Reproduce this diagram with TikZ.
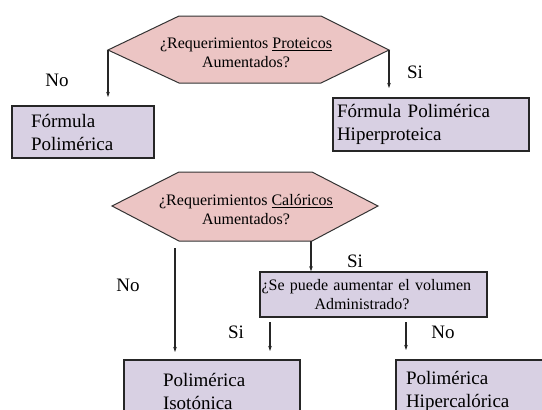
\documentclass[tikz,border=0pt]{standalone}
\usepackage{fontspec}
\setmainfont{Liberation Serif}
\usepackage{xcolor}
\usetikzlibrary{arrows.meta, positioning}

\definecolor{hexfill}{RGB}{236,197,196}
\definecolor{boxfill}{RGB}{216,208,227}
\newcommand{\bigtxt}{\fontsize{19}{23}\selectfont}
\newcommand{\smalltxt}{\fontsize{16}{19}\selectfont}

\begin{document}
\begin{tikzpicture}[
    x=1pt, y=-1pt,
    hexa/.style={draw=black!80, line width=1pt, fill=hexfill},
    question/.style={align=center, inner sep=0pt, font=\smalltxt},
    box/.style={draw=black!85, line width=1.4pt, fill=boxfill, align=left, inner ysep=0pt, font=\bigtxt},
    answer/.style={inner sep=0pt, font=\bigtxt},
    arrow/.style={-{Stealth[length=5pt, width=3.5pt]}, line width=1.2pt, black!85}
]
    \useasboundingbox (0,0) rectangle (542,410);
    \clip (0,0) rectangle (542,410);

    % first decision
    \coordinate (p1l) at (108,50);
    \coordinate (p1r) at (389,50);
    \draw[hexa] (p1l) -- (179,16) -- (321,16) -- (p1r) -- (321,83) -- (179,83) -- cycle;
    \node[question] (prot) at (246,53) {¿Requerimientos \underline{Proteicos}\\Aumentados?};

    \coordinate (p1la) at (108,97);
    \coordinate (p1ra) at (389,88);
    \draw[arrow] (p1l) -- (p1la);
    \draw[arrow] (p1r) -- (p1ra);
    \node[answer] (no1) at (57,80) {No};
    \node[answer] (si1) at (415,72) {Si};

    \node[box, minimum width=142pt, minimum height=52pt, inner xsep=19pt, text width=104pt]
        (polim) at (83,132) {Fórmula\\Polimérica};
    \node[box, minimum width=196pt, minimum height=53pt, inner xsep=4pt, text width=188pt]
        (hiperp) at (431,124.5) {Fórmula Polimérica\\Hiperproteica};

    % second decision
    \coordinate (p2br) at (311,241);
    \draw[hexa] (112,206) -- (179,172) -- (312,172) -- (378,206) -- (312,241) -- (179,241) -- cycle;
    \node[question] (calor) at (246,210) {¿Requerimientos \underline{Calóricos}\\Aumentados?};

    \coordinate (no2s) at (175,248);
    \coordinate (no2e) at (175,352);
    \draw[arrow] (no2s) -- (no2e);
    \node[answer] (no2) at (128,285) {No};

    \node[box, font=\smalltxt, minimum width=227pt, minimum height=45pt, inner xsep=1.5pt, text width=224pt]
        (volumen) at (373.5,294.5) {\fontsize{16}{21}\selectfont ¿Se puede aumentar el volumen\\\hspace*{53pt}Administrado?};
    \draw[arrow] (p2br) -- (volumen.north -| p2br);
    \node[answer] (si2) at (355,261) {Si};

    \coordinate (si3s) at (270,322);
    \coordinate (si3e) at (270,351);
    \coordinate (no3s) at (406,322);
    \coordinate (no3e) at (406,350);
    \draw[arrow] (si3s) -- (si3e);
    \draw[arrow] (no3s) -- (no3e);
    \node[answer] (si3) at (236,332) {Si};
    \node[answer] (no3) at (443,332) {No};

    \node[box, minimum width=176pt, minimum height=62pt, inner xsep=39pt, text width=98pt]
        (isot) at (212,391) {Polimérica\\Isotónica};
    \node[box, minimum width=164pt, minimum height=62pt, inner xsep=10pt, text width=144pt]
        (hiperc) at (478,391) {Polimérica\\Hipercalórica};
\end{tikzpicture}
\end{document}
